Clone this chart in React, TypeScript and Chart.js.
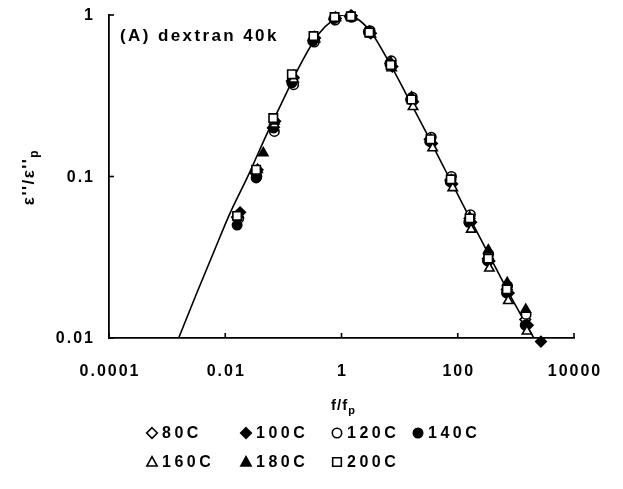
import React, { useEffect, useRef } from 'react';
import { Chart, registerables } from 'chart.js';

Chart.register(...registerables);

// ---- axis ticks ----
const xTickValues = [0.0001, 0.01, 1, 100, 10000];
const xTickLabels = ['0.0001', '0.01', '1', '100', '10000'];
const yTickValues = [0.01, 0.1, 1];
const yTickLabels = ['0.01', '0.1', '1'];

// ---- series (f/fp, e''/e''p) ----
const seriesLabels = ['80C', '100C', '120C', '140C', '160C', '180C', '200C'];

const f80 = [0.016, 0.033, 0.066, 0.14, 0.33, 0.75, 1.4, 3.0, 7.0, 16, 33, 75, 160, 330, 700, 1450];
const e80 = [0.056, 0.105, 0.2, 0.39, 0.7, 0.94, 0.98, 0.78, 0.5, 0.3, 0.17, 0.095, 0.055, 0.031, 0.02, 0.013];

const f100 = [0.018, 0.036, 0.072, 0.15, 0.35, 0.8, 1.5, 3.2, 7.5, 17, 36, 80, 170, 350, 750, 1600, 2700];
const e100 = [0.06, 0.11, 0.22, 0.41, 0.72, 0.95, 0.99, 0.77, 0.48, 0.29, 0.16, 0.09, 0.052, 0.03, 0.019, 0.012, 0.0095];

const f120 = [0.017, 0.035, 0.07, 0.15, 0.34, 0.78, 1.5, 3.1, 7.2, 16.5, 35, 78, 165, 340, 720, 1500];
const e120 = [0.055, 0.1, 0.19, 0.37, 0.68, 0.93, 0.97, 0.8, 0.52, 0.31, 0.175, 0.1, 0.058, 0.033, 0.021, 0.014];

const f140 = [0.016, 0.034, 0.068, 0.14, 0.32, 0.74, 1.4, 2.9, 6.8, 15.5, 33, 74, 155, 325, 690, 1450];
const e140 = [0.05, 0.098, 0.2, 0.38, 0.69, 0.95, 0.98, 0.79, 0.5, 0.3, 0.165, 0.093, 0.052, 0.03, 0.019, 0.012];

const f160 = [0.017, 0.036, 0.07, 0.15, 0.35, 0.8, 1.5, 3.2, 7.3, 17, 37, 82, 170, 350, 740, 1550];
const e160 = [0.058, 0.11, 0.21, 0.4, 0.71, 0.96, 0.97, 0.76, 0.47, 0.27, 0.15, 0.085, 0.047, 0.027, 0.017, 0.011];

const f180 = [0.045, 0.07, 0.15, 0.34, 0.78, 1.45, 3.0, 7.0, 16, 34, 77, 160, 335, 710, 1480];
const e180 = [0.14, 0.22, 0.42, 0.73, 0.96, 0.99, 0.79, 0.51, 0.31, 0.17, 0.095, 0.056, 0.035, 0.022, 0.015];

const f200 = [0.016, 0.034, 0.067, 0.14, 0.33, 0.76, 1.45, 3.0, 7.0, 16, 34, 76, 160, 335, 700];
const e200 = [0.057, 0.11, 0.23, 0.43, 0.74, 0.97, 0.98, 0.78, 0.49, 0.3, 0.17, 0.096, 0.055, 0.031, 0.02];

// ---- fitted curve ----
const fitF = [0.00158, 0.00316, 0.0063, 0.012, 0.025, 0.05, 0.1, 0.2, 0.4, 0.71, 1.1, 1.8, 3.16, 6.3, 12.6, 28, 63, 158, 400, 1000, 2040];
const fitE = [0.01, 0.0186, 0.0339, 0.0589, 0.102, 0.178, 0.3, 0.5, 0.76, 0.93, 1.0, 0.955, 0.79, 0.525, 0.33, 0.19, 0.107, 0.056, 0.0295, 0.0158, 0.01];

const seriesF = [f80, f100, f120, f140, f160, f180, f200];
const seriesE = [e80, e100, e120, e140, e160, e180, e200];
const seriesStyle = ['rectRot', 'rectRot', 'circle', 'circle', 'triangle', 'triangle', 'rect'];
const seriesFilled = [false, true, false, true, false, true, false];
const seriesRadius = [5.3, 5.3, 4.7, 4.7, 5.4, 5.4, 6];

const FONT = '"Liberation Sans", Arial, Helvetica, sans-serif';

function drawMarker(ctx: CanvasRenderingContext2D, style: string, filled: boolean, x: number, y: number, r: number) {
  ctx.save();
  ctx.beginPath();
  if (style === 'rectRot') {
    ctx.moveTo(x, y - r);
    ctx.lineTo(x + r, y);
    ctx.lineTo(x, y + r);
    ctx.lineTo(x - r, y);
    ctx.closePath();
  } else if (style === 'circle') {
    ctx.arc(x, y, r, 0, Math.PI * 2);
  } else if (style === 'triangle') {
    ctx.moveTo(x, y - r);
    ctx.lineTo(x + r * 0.95, y + r * 0.75);
    ctx.lineTo(x - r * 0.95, y + r * 0.75);
    ctx.closePath();
  } else {
    const s = r * 0.72;
    ctx.rect(x - s, y - s, 2 * s, 2 * s);
  }
  ctx.fillStyle = filled ? '#000' : '#fff';
  ctx.fill();
  ctx.lineWidth = 1.6;
  ctx.strokeStyle = '#000';
  ctx.stroke();
  ctx.restore();
}

const decorPlugin = {
  id: 'decor',
  afterDraw(chart: any) {
    const ctx: CanvasRenderingContext2D = chart.ctx;
    const xs = chart.scales.x;
    const ys = chart.scales.y;
    const area = chart.chartArea;
    ctx.save();
    ctx.strokeStyle = '#000';
    ctx.fillStyle = '#000';
    ctx.lineWidth = 1.6;
    // inward ticks
    xTickValues.forEach((v) => {
      const px = xs.getPixelForValue(v);
      ctx.beginPath();
      ctx.moveTo(px, area.bottom);
      ctx.lineTo(px, area.bottom - 5);
      ctx.stroke();
    });
    yTickValues.forEach((v) => {
      const py = ys.getPixelForValue(v);
      ctx.beginPath();
      ctx.moveTo(area.left, py);
      ctx.lineTo(area.left + 5, py);
      ctx.stroke();
    });
    // tick labels
    (ctx as any).letterSpacing = '2px';
    ctx.font = `bold 16px ${FONT}`;
    ctx.textBaseline = 'middle';
    ctx.textAlign = 'center';
    xTickValues.forEach((v, i) => {
      ctx.fillText(xTickLabels[i], xs.getPixelForValue(v) + 1, area.bottom + 34);
    });
    ctx.textAlign = 'right';
    yTickValues.forEach((v, i) => {
      ctx.fillText(yTickLabels[i], area.left - 14, ys.getPixelForValue(v) + 1);
    });
    // annotation
    (ctx as any).letterSpacing = '2.4px';
    ctx.font = `bold 17px ${FONT}`;
    ctx.textAlign = 'left';
    ctx.fillText('(A) dextran 40k', area.left + 11, area.top + 21);
    // x title
    (ctx as any).letterSpacing = '1px';
    ctx.font = `bold 15px ${FONT}`;
    const xMain = 'f/f';
    const wMain = ctx.measureText(xMain).width;
    ctx.font = `bold 11px ${FONT}`;
    const wSub = ctx.measureText('p').width;
    const cx = (area.left + area.right) / 2 + 2;
    const startX = cx - (wMain + wSub) / 2;
    ctx.font = `bold 15px ${FONT}`;
    ctx.fillText(xMain, startX, area.bottom + 68);
    ctx.font = `bold 11px ${FONT}`;
    ctx.fillText('p', startX + wMain, area.bottom + 73);
    // y title (rotated)
    ctx.save();
    ctx.translate(34, 177);
    ctx.rotate(-Math.PI / 2);
    ctx.textBaseline = 'alphabetic';
    (ctx as any).letterSpacing = '1.5px';
    ctx.font = `bold 17px ${FONT}`;
    const yMain = "ε''/ε''";
    const wyMain = ctx.measureText(yMain).width;
    ctx.font = `bold 12px ${FONT}`;
    const wySub = ctx.measureText('p').width;
    const sx = -(wyMain + wySub) / 2;
    ctx.font = `bold 17px ${FONT}`;
    ctx.fillText(yMain, sx, 0);
    ctx.font = `bold 12px ${FONT}`;
    ctx.fillText('p', sx + wyMain, 4);
    ctx.restore();
    // legend
    (ctx as any).letterSpacing = '3.5px';
    ctx.font = `bold 16px ${FONT}`;
    ctx.textAlign = 'left';
    ctx.textBaseline = 'middle';
    const colMarker = [152, 246, 337, 418];
    const rowY = [433, 462];
    seriesLabels.forEach((lab, i) => {
      const row = i < 4 ? 0 : 1;
      const col = i < 4 ? i : i - 4;
      const mx = colMarker[col];
      const my = rowY[row];
      drawMarker(ctx, seriesStyle[i], seriesFilled[i], mx, my, seriesRadius[i]);
      ctx.fillStyle = '#000';
      ctx.fillText(lab, mx + 10, my + 1);
    });
    ctx.restore();
  },
};

export default function App() {
  const ref = useRef<HTMLCanvasElement>(null);
  useEffect(() => {
    if (!ref.current) return;
    const datasets: any[] = [
      {
        type: 'line',
        label: 'fit',
        data: fitF.map((f, i) => ({ x: f, y: fitE[i] })),
        borderColor: '#000',
        borderWidth: 1.6,
        pointRadius: 0,
        showLine: true,
        fill: false,
        cubicInterpolationMode: 'monotone',
        order: 10,
      },
    ];
    seriesLabels.forEach((lab, i) => {
      datasets.push({
        type: 'scatter',
        label: lab,
        data: seriesF[i].map((f, j) => ({ x: f, y: seriesE[i][j] })),
        pointStyle: seriesStyle[i],
        pointRadius: seriesRadius[i],
        pointBorderWidth: 1.6,
        pointBackgroundColor: seriesFilled[i] ? '#000' : '#fff',
        pointBorderColor: '#000',
        backgroundColor: seriesFilled[i] ? '#000' : '#fff',
        borderColor: '#000',
        clip: false,
        order: 7 - i,
      });
    });
    const chart = new Chart(ref.current, {
      type: 'scatter',
      data: { datasets },
      options: {
        animation: false,
        responsive: false,
        devicePixelRatio: 1,
        layout: { padding: { left: 109, top: 15, right: 49, bottom: 151 } },
        plugins: { legend: { display: false }, tooltip: { enabled: false } },
        scales: {
          x: {
            type: 'logarithmic',
            min: 0.0001,
            max: 10000,
            ticks: { display: false },
            grid: { drawOnChartArea: false, drawTicks: false },
            border: { display: true, color: '#000', width: 1.8 },
          },
          y: {
            type: 'logarithmic',
            min: 0.01,
            max: 1,
            ticks: { display: false },
            grid: { drawOnChartArea: false, drawTicks: false },
            border: { display: true, color: '#000', width: 1.8 },
          },
        },
      } as any,
      plugins: [decorPlugin],
    });
    return () => chart.destroy();
  }, []);
  return (
    <canvas
      ref={ref}
      width={623}
      height={489}
      style={{ position: 'absolute', left: 0, top: 0, width: 623, height: 489, background: '#fff' }}
    />
  );
}
